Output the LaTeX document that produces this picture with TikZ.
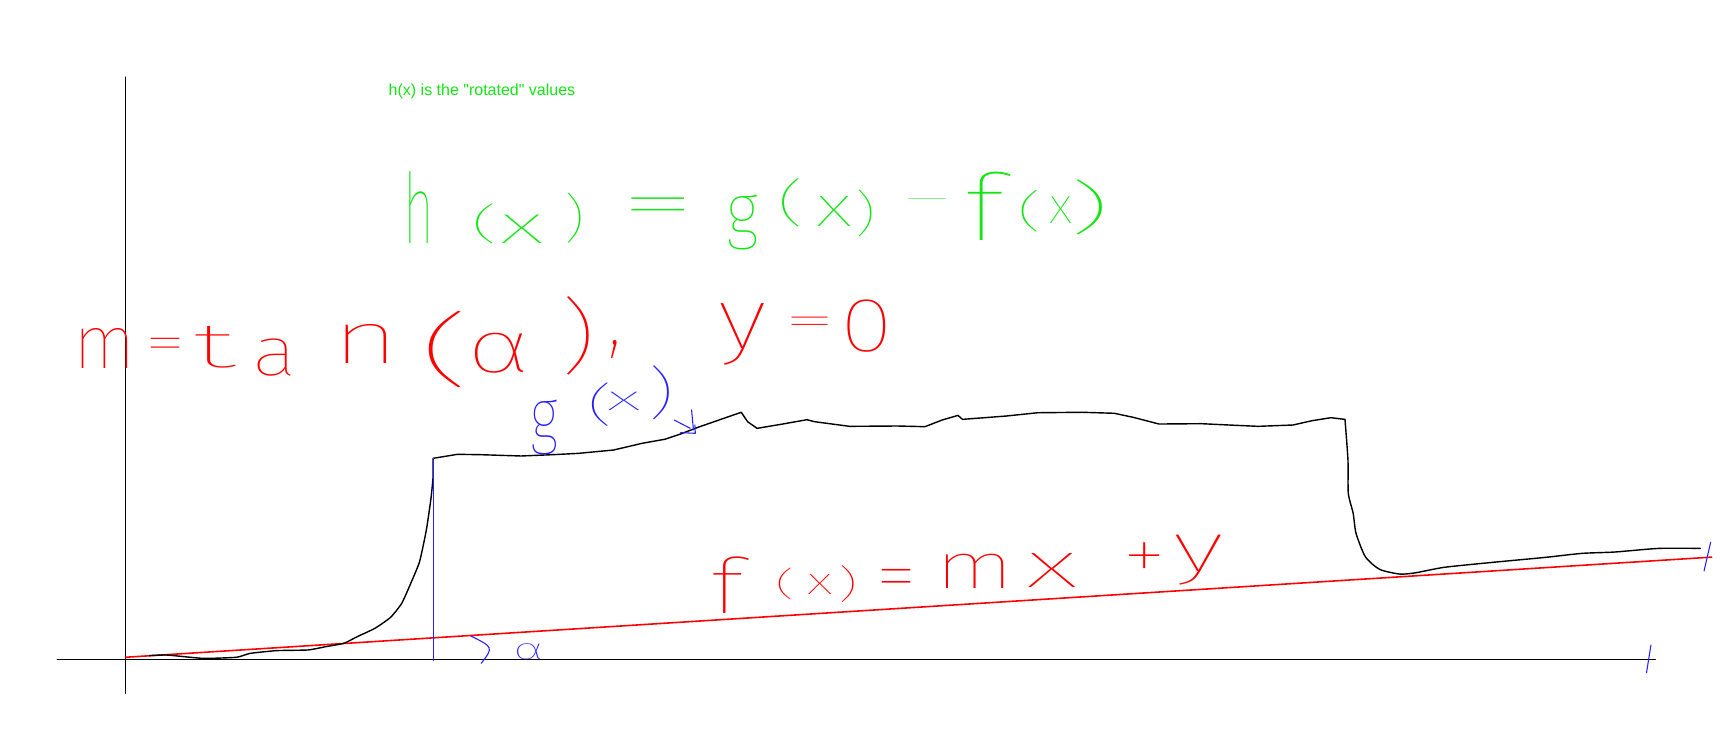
\documentclass[tikz,border=0pt]{standalone}
\usepackage{fontspec}
\usepackage{graphicx}
\newfontfamily\hand{Fira Sans Thin}
\newfontfamily\typed{Liberation Sans}
\definecolor{hgreen}{RGB}{20,230,20}
\definecolor{hred}{RGB}{255,0,0}
\definecolor{hblue}{RGB}{40,30,255}
\newdimen\pxu \pxu=0.02213cm
\tikzset{
  hw/.style={inner sep=0pt, outer sep=0pt},
  axis/.style={black, line width=0.6pt},
  gcurve/.style={black, line width=0.8pt},
  fline/.style={hred, line width=0.9pt},
  bluepen/.style={hblue, line width=0.6pt}
}
\newcommand\hw[7]{\node[hw,text=#1] (#2) at (#3,#4) {\resizebox*{#5\pxu}{#6\pxu}{\hand #7}};}
\newcommand\hwn[7]{\node[hw,text=#1,anchor=north] (#2) at (#3,#4) {\resizebox*{#5\pxu}{#6\pxu}{\hand #7}};}
\begin{document}
\begin{tikzpicture}[x=0.02213cm, y=-0.02213cm, line cap=round, line join=round]
\fill[white] (0,0) rectangle (1568,680);
\useasboundingbox (0,0) rectangle (1568,680);
% axes
\coordinate (ytop) at (113.3,69.6);
\coordinate (ybot) at (113.3,626.6);
\coordinate (xl) at (51.6,596);
\coordinate (xr) at (1496,596);
\draw[axis] (ytop) -- (ybot);
\draw[axis] (xl) -- (xr);
% f(x) line
\coordinate (f0) at (113.4,594);
\coordinate (f1) at (1547,503.5);
\draw[fline] (f0) -- (f1);
% g(x) curve
\draw[gcurve] plot[smooth, tension=0.3] coordinates {
(135,592.5) (151.3,592) (183.6,595) (213.8,594) (225.9,590.5) (250,588) (278.4,587.4)
(294.5,584.4) (310.7,581.4) (322.8,575.4) (338.9,567.8) (353,557.9) (363.1,545.2)
(371.2,527.2) (379.2,507.6) (385.3,479) (389.3,451.9) (391.3,432.3) (391.5,414.2)};
\draw[gcurve] (391.5,414.2) -- (413.4,410.6) -- (433.5,410.9) -- (471,412.1) -- (499.8,410.9)
 -- (522.9,409.7) -- (554.5,406.7) -- (580.5,400.6) -- (600.7,397) -- (615.1,392.2)
 -- (632.4,385.6) -- (649.7,379.6) -- (669.9,372.6) -- (675.6,381.1) -- (684.2,387.1)
 -- (707.4,383.2) -- (729.2,379.3) -- (736.1,381.1) -- (767.8,385.3) -- (811,385)
 -- (835.9,385.6) -- (851.4,379.6) -- (865.8,375.4) -- (869.8,379) -- (909.1,376)
 -- (937.9,373) -- (978.2,372.6) -- (1007,373.5) -- (1024.3,377.2) -- (1047.4,383.2)
 -- (1085.7,382.9) -- (1110.8,384.1) -- (1136.9,385.3) -- (1168.5,384.1) -- (1185.7,380.2)
 -- (1202.8,377.5) -- (1215.5,379);
\draw[gcurve] plot[smooth, tension=0.4] coordinates {
(1215.5,379) (1218.2,415.7) (1218.5,445.8) (1222.9,463.9) (1225.5,482) (1233.9,503.1)
(1246.7,514.5) (1265,518.8) (1279.6,517.6) (1305.3,512.7) (1349.2,508.2) (1396.8,503.7)
(1429.7,500.1) (1459,498.9) (1499.3,495.6) (1536.6,495.6)};
% blue vertical, ticks, angle arc
\coordinate (vt) at (391.5,414);
\coordinate (vb) at (391.5,597);
\draw[bluepen] (vt) -- (vb);
\coordinate (t1a) at (1546,490); \coordinate (t1b) at (1540,516);
\draw[bluepen] (t1a) -- (t1b);
\coordinate (t2a) at (1492,583); \coordinate (t2b) at (1488,608);
\draw[bluepen] (t2a) -- (t2b);
\coordinate (arcA) at (425.6,574.8); \coordinate (arcB) at (434.9,599.5);
\draw[bluepen] (arcA) .. controls (446,585) .. (arcB);
% arrow from g(x) to curve
\coordinate (a1) at (609.3,379.6); \coordinate (a2) at (623.8,387.1);
\coordinate (a3) at (625,370.5); \coordinate (a4) at (626.7,388.6);
\coordinate (a5) at (615.1,391); \coordinate (a6) at (628.4,391.6); \coordinate (a7) at (628,384);
\draw[bluepen] (a1) -- (a2);
\draw[bluepen] (a3) -- (a4);
\draw[bluepen] (a5) -- (a6) -- (a7);
% typed note
\node[text=hgreen, font=\typed\fontsize{9.1}{10}\selectfont, inner sep=0pt, anchor=base west] (note) at (351,86.5) {h(x) is the "rotated" values};
% green handwritten h(x) = g(x) - f(x)
\hw{hgreen}{gh}{378.5}{187.5}{27.7}{65}{h}
\hw{hgreen}{glpa}{438.5}{201.9}{26}{36.2}{(}
\hw{hgreen}{gxa}{471.9}{207.2}{39.2}{25.7}{x}
\hw{hgreen}{grpa}{519.2}{197.4}{20}{45.3}{)}
\hwn{hgreen}{geq}{595.3}{179.2}{70}{27.7}{=}
\hw{hgreen}{gg}{670.7}{201}{29}{49.7}{g}
\hw{hgreen}{glpb}{715.1}{183}{26}{43.6}{(}
\hw{hgreen}{gxb}{754.4}{191.3}{32.3}{27.1}{x}
\hw{hgreen}{grpb}{782}{192.8}{20}{42.2}{)}
\hwn{hgreen}{gmin}{837.8}{180}{56}{7}{-}
\hw{hgreen}{gf}{889.3}{186}{36}{61.8}{f}
\hw{hgreen}{glpc}{930.7}{190.5}{24}{37.7}{(}
\hw{hgreen}{gxc}{958.7}{189.7}{20.8}{24.1}{x}
\hw{hgreen}{grpc}{984.6}{187.5}{40}{49.7}{)}
% red m=tan(alpha), y=0
\hw{hred}{rm}{94.8}{314.8}{56.4}{36.2}{m}
\hwn{hred}{reqa}{149.3}{305.8}{38}{21}{=}
\hw{hred}{rt}{194}{314}{39.5}{37.7}{t}
\hw{hred}{ra}{248.2}{323.5}{40.3}{33.7}{a}
\hw{hred}{rn}{330.9}{310.8}{60.5}{35.3}{n}
\hw{hred}{rlp}{402.5}{316.3}{50}{69.2}{(}
\hw{hred}{ralpha}{451.5}{319.3}{57.3}{36.2}{α}
\hw{hred}{rrp}{522.5}{303.5}{34}{70.8}{)}
\hw{hred}{rcomma}{555.8}{315.6}{12}{16.5}{,}
\hw{hred}{ry}{671.6}{302}{43.7}{55.8}{y}
\hwn{hred}{reqb}{731.8}{286.2}{48}{17.5}{=}
\hw{hred}{rzero}{783.7}{294.8}{47.5}{47.3}{0}
% red f(x)=mx+y
\hw{hred}{ff}{657.2}{528.7}{30}{51.2}{f}
\hw{hred}{flp}{709.3}{527.9}{19}{28.6}{(}
\hw{hred}{fxa}{741.4}{528.7}{22.9}{18}{x}
\hw{hred}{frp}{766.6}{528.1}{19}{33.2}{)}
\hwn{hred}{feq}{809.8}{514.2}{38}{29}{=}
\hw{hred}{fm}{881.2}{516.2}{71.1}{31}{m}
\hw{hred}{fxb}{950.8}{515.5}{46.5}{30.7}{x}
\hwn{hred}{fplus}{1034}{490.4}{40}{35}{+}
\hw{hred}{fy}{1083.5}{506.1}{45.6}{45.2}{y}
\node[hw,text=hred] (fdot) at (1122,523) {\hand\fontsize{4}{4}\selectfont .};
% blue g(x) and alpha
\hw{hblue}{bg}{491.8}{386.4}{25}{49.7}{g}
\hw{hblue}{blp}{542.3}{366}{25}{39.2}{(}
\hw{hblue}{bx}{563.9}{362.3}{30.3}{16.5}{x}
\hw{hblue}{brp}{597.8}{355.2}{25}{48.8}{)}
\hw{hblue}{balpha}{477.7}{588.7}{27.4}{14.5}{α}
\end{tikzpicture}
\end{document}
